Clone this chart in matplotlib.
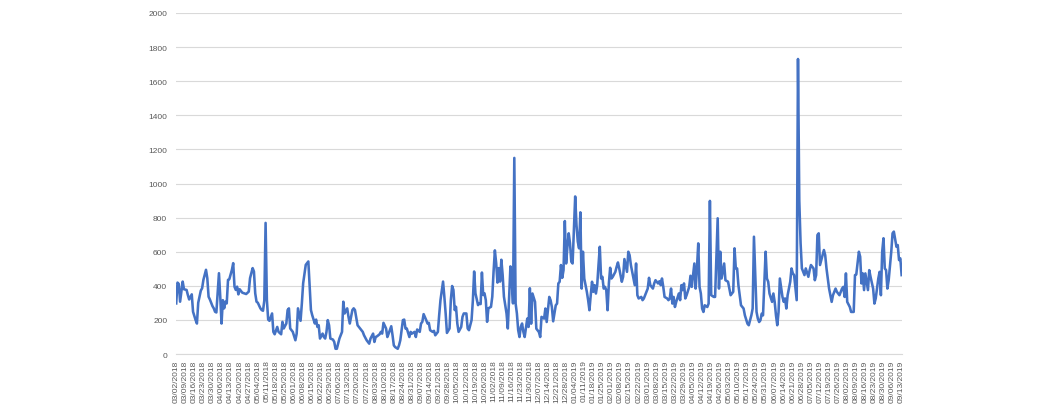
import numpy as np
import pandas as pd
import matplotlib
matplotlib.use("Agg")
import matplotlib.pyplot as plt
import matplotlib.dates as mdates

# days after 03/02/2018 and the value at that day
days = [0, 1, 2, 3, 5, 6, 8, 9, 10, 12, 13, 15, 16, 17, 19, 20, 21, 23, 24, 25, 26, 28, 29, 30, 31,
        33, 34, 35, 36, 37, 38, 39, 40, 41, 43, 44, 45, 46, 47, 48, 49, 51, 54, 56, 57, 59, 60, 61,
        62, 63, 65, 66, 67, 68, 69, 70, 71, 72, 74, 75, 76, 78, 79, 81, 82, 83, 85, 86, 87, 88, 90,
        92, 93, 94, 96, 97, 98, 100, 101, 102, 103, 104, 105, 107, 108, 109, 110, 111, 113, 114, 115,
        116, 117, 118, 119, 121, 122, 123, 124, 126, 127, 128, 129, 130, 132, 133, 134, 136, 137,
        138, 140, 142, 144, 145, 147, 149, 150, 152, 153, 154, 155, 157, 158, 159, 160, 162, 163,
        164, 166, 167, 168, 169, 171, 172, 173, 175, 176, 177, 178, 180, 181, 182, 184, 185, 186,
        188, 189, 190, 191, 193, 194, 195, 196, 198, 199, 200, 202, 203, 204, 206, 207, 208, 209,
        211, 212, 213, 214, 215, 216, 217, 218, 220, 221, 222, 224, 225, 226, 228, 229, 230, 231,
        233, 234, 235, 236, 237, 238, 239, 240, 241, 243, 244, 245, 246, 247, 248, 249, 250, 251,
        252, 253, 255, 256, 257, 258, 259, 260, 261, 262, 263, 264, 265, 266, 267, 268, 269, 271,
        272, 273, 274, 275, 277, 278, 280, 281, 282, 284, 285, 286, 288, 289, 290, 291, 293, 294,
        295, 296, 297, 298, 299, 300, 301, 302, 303, 304, 305, 306, 308, 309, 310, 311, 312, 313,
        314, 315, 317, 318, 319, 320, 321, 322, 323, 324, 325, 326, 327, 328, 329, 330, 331, 332,
        333, 334, 335, 336, 337, 339, 340, 341, 342, 344, 345, 346, 348, 349, 350, 351, 353, 354,
        355, 356, 357, 359, 360, 361, 363, 364, 365, 366, 368, 369, 370, 372, 373, 374, 375, 376,
        377, 379, 380, 381, 382, 383, 384, 385, 386, 388, 389, 390, 391, 392, 393, 394, 396, 397,
        398, 399, 400, 401, 402, 403, 404, 405, 406, 407, 408, 410, 411, 412, 413, 415, 416, 418,
        419, 420, 421, 423, 424, 426, 427, 428, 430, 431, 432, 433, 434, 435, 436, 438, 439, 441,
        442, 443, 444, 445, 446, 448, 449, 450, 451, 452, 453, 455, 456, 457, 458, 460, 461, 462,
        463, 464, 465, 466, 468, 469, 470, 471, 472, 474, 475, 476, 477, 479, 480, 481, 482, 483,
        485, 486, 488, 489, 490, 492, 493, 494, 495, 496, 497, 498, 500, 501, 502, 504, 506, 507,
        509, 510, 512, 514, 515, 516, 517, 518, 520, 521, 523, 524, 525, 527, 528, 529, 530, 531,
        532, 534, 535, 536, 538, 539, 540, 542, 543, 544, 545, 546, 547, 548, 549, 550, 552, 553,
        554, 556, 557, 558, 559, 560]

values = [297, 419, 411, 307, 425, 380, 376, 346, 320, 350, 248, 199, 179, 301, 372, 386, 435, 494, 445, 336, 320, 281, 268, 248, 244,
          474, 336, 179, 316, 268, 307, 297, 435, 439, 494, 533, 395, 376, 395, 350, 380, 360, 352, 366, 445, 504, 484, 356,
          307, 301, 268, 258, 254, 313, 769, 316, 202, 195, 238, 130, 116, 159, 130, 116, 189, 150, 179, 258, 268, 150, 130,
          81, 120, 268, 195, 297, 415, 523, 533, 543, 395, 258, 228, 179, 202, 159, 169, 91, 120, 100, 91,
          130, 199, 169, 91, 85, 71, 31, 31, 91, 110, 130, 307, 238, 268, 218, 179, 258, 268,
          258, 169, 150, 130, 110, 81, 61, 91, 120, 71, 100, 104, 116, 130, 120, 183, 150, 100,
          120, 163, 110, 51, 41, 31, 51, 81, 199, 202, 150, 150, 100, 130, 120, 130, 100, 144,
          130, 179, 189, 234, 199, 179, 183, 140, 130, 136, 110, 130, 228, 316, 425, 336, 238, 124,
          150, 316, 399, 376, 258, 277, 179, 130, 159, 218, 238, 238, 150, 140, 199, 313, 484, 356,
          287, 297, 293, 478, 346, 356, 316, 189, 268, 277, 336, 484, 608, 533, 419, 504, 425, 553,
          464, 336, 238, 150, 336, 514, 435, 297, 1150, 297, 238, 140, 100, 159, 179, 130, 100, 208,
          159, 386, 178, 355, 306, 149, 129, 100, 218, 208, 267, 188, 335, 316, 276, 192, 286, 296,
          414, 424, 522, 447, 492, 780, 531, 629, 708, 649, 541, 531, 924, 757, 659, 620, 831, 384,
          600, 443, 365, 316, 257, 345, 424, 365, 404, 355, 404, 522, 629, 443, 453, 384, 394, 375,
          257, 414, 506, 443, 453, 482, 512, 537, 502, 424, 453, 557, 482, 600, 580, 522, 443, 404,
          531, 345, 326, 335, 316, 326, 365, 384, 447, 404, 384, 414, 433, 414, 427, 404, 443, 394,
          335, 326, 316, 326, 384, 296, 335, 276, 306, 355, 316, 404, 375, 414, 326, 345, 394, 459,
          394, 463, 531, 384, 502, 649, 394, 355, 267, 247, 286, 276, 296, 898, 345, 335, 335, 796,
          384, 600, 443, 531, 433, 424, 384, 345, 365, 620, 502, 502, 404, 345, 286, 267, 227, 178,
          169, 198, 227, 267, 688, 247, 208, 188, 198, 237, 227, 600, 443, 424, 355, 306, 355, 306,
          227, 169, 247, 443, 335, 306, 326, 267, 345, 424, 502, 473, 463, 316, 1730, 900, 650, 502,
          463, 502, 453, 492, 522, 502, 433, 463, 698, 708, 522, 551, 610, 580, 502, 384, 306, 345,
          384, 365, 345, 384, 394, 335, 473, 306, 276, 247, 247, 463, 467, 600, 571, 414, 473, 375,
          473, 375, 492, 453, 384, 296, 326, 443, 482, 345, 600, 679, 502, 492, 384, 433, 600, 708,
          718, 629, 639, 551, 561, 463]

start = pd.Timestamp("2018-03-02")
dates = start + pd.to_timedelta(days, unit="D")
tick_dates = pd.date_range("2018-03-02", "2019-09-13", freq="7D")
y_ticks = list(range(0, 2001, 200))

plt.rcParams['font.family'] = ['Liberation Sans', 'DejaVu Sans']

fig = plt.figure(figsize=(10.64, 4.10), dpi=100)
ax = fig.add_axes([0.165, 0.134, 0.683, 0.832])

ax.plot(dates, values, color='#4472C4', linewidth=1.85, solid_joinstyle='round')

ax.set_ylim(0, 2000)
ax.set_yticks(y_ticks)
ax.set_xlim(start - pd.Timedelta(days=0.5), pd.Timestamp("2019-09-13") + pd.Timedelta(days=0.5))
ax.set_xticks(tick_dates)
ax.xaxis.set_major_formatter(mdates.DateFormatter('%m/%d/%Y'))

ax.tick_params(axis='x', labelrotation=90, labelsize=6, colors='#595959', length=0, pad=4)
ax.tick_params(axis='y', labelsize=6, colors='#595959', length=0, pad=6)

ax.grid(axis='y', color='#D9D9D9', linewidth=0.8)
ax.set_axisbelow(True)
for side in ['top', 'right', 'left']:
    ax.spines[side].set_visible(False)
ax.spines['bottom'].set_color('#D9D9D9')
ax.spines['bottom'].set_linewidth(0.8)

fig.savefig('out.png', dpi=100)
